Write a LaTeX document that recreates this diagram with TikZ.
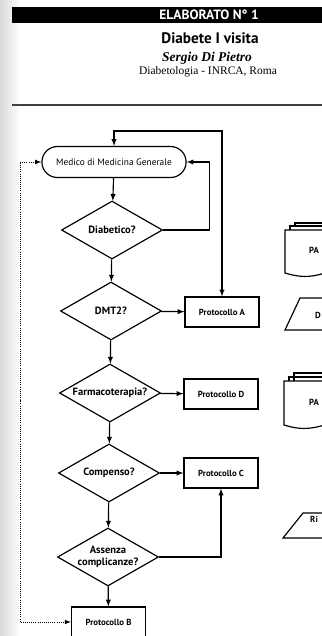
\documentclass[tikz,border=0pt]{standalone}
\usepackage{fontspec}
\setmainfont{Liberation Serif}
\setsansfont{PT Sans}
\usetikzlibrary{arrows,calc}
\usetikzlibrary{positioning,shapes}

\tikzset{
  term/.style={draw,line width=1pt,rounded rectangle,minimum width=4.56cm,minimum height=0.93cm,font=\sffamily\fontsize{8}{9}\selectfont},
  test/.style={draw,line width=1pt,diamond,shape aspect=1.74,inner sep=0pt,minimum width=3.03cm,minimum height=1.74cm,align=center,font=\sffamily\bfseries\fontsize{9}{10.5}\selectfont},
  proto/.style={draw,line width=1pt,rectangle,minimum width=2.22cm,minimum height=0.9cm,font=\sffamily\bfseries\fontsize{7.5}{9}\selectfont},
  flow/.style={->,>=latex,line width=1pt},
  paper/.style={line width=1pt},
  cut/.style={anchor=west,inner sep=0pt,font=\sffamily\bfseries\fontsize{7.5}{9}\selectfont}
}

\begin{document}
\begin{tikzpicture}[x=0.3cm,y=0.3cm]
\useasboundingbox (0,0) rectangle (32.2,-63.6);
\clip (0,0) rectangle (32.2,-63.6);
\shade[left color=gray!30,right color=white] (0,0) rectangle (2.0,-63.6);
% header
\fill[black] (1.2,-0.7) rectangle (32.2,-2.3);
\node[white,font=\sffamily\bfseries\fontsize{11.5}{13}\selectfont] (elab) at (20.9,-1.5) {ELABORATO N° 1};
\node[font=\sffamily\bfseries\fontsize{13}{15}\selectfont] (titolo) at (21.0,-3.8) {Diabete I visita};
\node[font=\bfseries\itshape\fontsize{11.5}{13}\selectfont] (autore) at (20.7,-5.8) {Sergio Di Pietro};
\node[font=\fontsize{9.8}{11}\selectfont] (ente) at (20.8,-7.2) {Diabetologia - INRCA, Roma};
\draw[gray!50!black,line width=1.3pt] (1.2,-10.5) -- (32.2,-10.5);
% flow chart
\node[term] (medico) at (11.4,-16.2) {Medico di Medicina Generale};
\node[test] (diabetico) at (11.2,-23.0) {Diabetico?};
\node[test] (dmt) at (11.1,-31.1) {DMT2?};
\node[test] (farmaco) at (11.0,-39.3) {Farmacoterapia?};
\node[test] (compenso) at (10.9,-47.3) {Compenso?};
\node[test] (assenza) at (10.8,-55.7) {Assenza\\complicanze?};
\node[proto] (protA) at (22.2,-31.2) {Protocollo A};
\node[proto] (protD) at (22.1,-39.4) {Protocollo D};
\node[proto] (protC) at (22.1,-47.3) {Protocollo C};
\node[proto] (protB) at (10.85,-62.2) {Protocollo B};
\coordinate (dotleft) at (2.0,-40.0);
\draw[flow] (medico) to (diabetico);
\draw[flow] (diabetico.east) -- ++(4.6,0) |- (medico.east);
\draw[flow] (diabetico) to (dmt);
\draw[flow] (dmt) to (protA);
\draw[flow,<->] (medico.north) -- ++(0,1.5) -| (protA.north);
\draw[flow] (dmt) to (farmaco);
\draw[flow] (farmaco) to (protD);
\draw[flow] (farmaco) to (compenso);
\draw[flow] (compenso) to (protC);
\draw[flow] (compenso) to (assenza);
\draw[flow] (assenza.east) -| (protC.south);
\draw[flow] (assenza) to (protB);
\draw[flow,<->,line width=0.8pt,densely dotted] (medico.west) -| (dotleft) |- (protB.west);
% legend, cut at the page edge
\draw[paper] (29.5,-22.6) |- (34,-22.3);
\draw[paper] (29.0,-23.0) |- (34,-22.6);
\draw[paper] (34,-23.0) -- (28.5,-23.0) -- (28.5,-27.3) .. controls (30.5,-27.9) and (31.5,-27.7) .. (34,-26.8);
\node[cut] (pa1) at (30.9,-25.0) {PA};
\draw[paper] (36,-29.8) -- (30.0,-29.8) -- (28.5,-33.0) -- (36,-33.0);
\node[cut] (d1) at (31.5,-31.5) {D};
\draw[paper] (29.4,-38.1) |- (34,-37.3);
\draw[paper] (28.9,-38.1) |- (34,-37.7);
\draw[paper] (34,-38.1) -- (28.4,-38.1) -- (28.4,-42.5) .. controls (30.4,-43.1) and (31.4,-42.9) .. (34,-42.0);
\node[cut] (pa2) at (30.9,-40.2) {PA};
\draw[paper] (36,-51.3) -- (30.3,-51.3) -- (28.3,-53.8) -- (36,-53.8);
\node[cut] (ri) at (31.0,-51.9) {Ri};
\end{tikzpicture}
\end{document}
